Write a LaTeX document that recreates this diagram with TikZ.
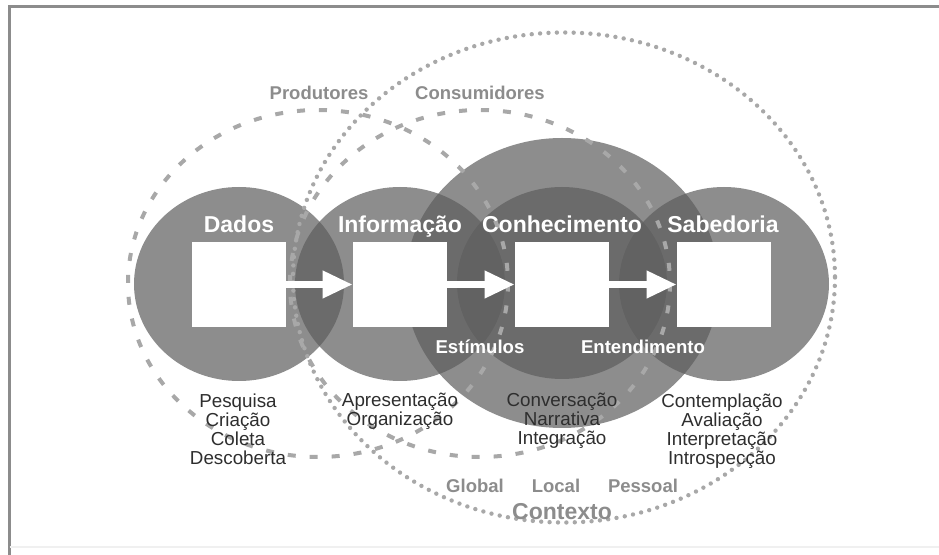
\documentclass[tikz,border=0pt]{standalone}
\usepackage{fontspec}
\setmainfont{Liberation Sans}
\usetikzlibrary{arrows.meta}
\definecolor{ringgray}{gray}{0.37}
\definecolor{linegray}{gray}{0.66}
\definecolor{labelgray}{gray}{0.55}
\definecolor{listgray}{gray}{0.18}
\definecolor{framegray}{gray}{0.55}
\begin{document}
\begin{tikzpicture}[x=0.5pt, y=-0.5pt,
    ring/.style={fill=ringgray, fill opacity=0.71},
    dashring/.style={draw=linegray, line width=2pt, dash pattern=on 4pt off 7pt},
    dotring/.style={draw=linegray, line width=2.2pt, dash pattern=on 0pt off 4.2pt, line cap=round},
    box/.style={fill=white, minimum width=47pt, minimum height=42.5pt, inner sep=0pt},
    flow/.style={draw=white, line width=3.5pt, -{Triangle[length=15pt, width=13pt]}},
    title/.style={text=white, font=\bfseries\fontsize{11.5}{13}\selectfont, anchor=base, inner sep=0pt},
    bridge/.style={text=white, font=\bfseries\fontsize{9.3}{11}\selectfont, anchor=base, inner sep=0pt},
    tag/.style={text=labelgray, font=\bfseries\fontsize{9.25}{11}\selectfont, anchor=base, inner sep=0pt},
    steps/.style={text=listgray, font=\fontsize{9.4}{9.5}\selectfont, align=center, anchor=north, inner sep=0pt}]
    \useasboundingbox (0,0) rectangle (939,555);

    % frame
    \draw[framegray, line width=1.5pt] (9.5,555) -- (9.5,6.5) -- (939,6.5);
    \draw[gray!12, line width=1pt] (9.5,547) -- (939,547);

    % circles
    \fill[ring] (239,284) ellipse [x radius=105, y radius=97];
    \fill[ring] (400,284) ellipse [x radius=105, y radius=97];
    \fill[ring] (562,283) ellipse [x radius=157, y radius=145];
    \fill[ring] (562,283) ellipse [x radius=105, y radius=96];
    \fill[ring] (724,284) ellipse [x radius=105, y radius=97];

    % producers, consumers, context
    \draw[dashring] (318,283.5) ellipse [x radius=190, y radius=173.5];
    \draw[dashring] (480,283.5) ellipse [x radius=190, y radius=173.5];
    \draw[dotring] (564,277.5) ellipse [x radius=271, y radius=245];

    \node[box] (dados) at (239,284.5) {};
    \node[box] (info)  at (400,284.5) {};
    \node[box] (conh)  at (562,284.5) {};
    \node[box] (sab)   at (724,284.5) {};

    \draw[flow] (dados) -- (info);
    \draw[flow] (info) -- (conh);
    \draw[flow] (conh) -- (sab);

    \node[title] (t1) at (239,233) {Dados};
    \node[title] (t2) at (400,233) {Informação};
    \node[title] (t3) at (562,233) {Conhecimento};
    \node[title] (t4) at (723,233) {Sabedoria};

    \node[bridge] (estimulos) at (480,354) {Estímulos};
    \node[bridge] (entend)    at (643,354) {Entendimento};

    \node[tag] (prod) at (319,99.5) {Produtores};
    \node[tag] (cons) at (480,99.5) {Consumidores};
    \node[tag] (glob) at (475,493) {Global};
    \node[tag] (loc)  at (556,493) {Local};
    \node[tag] (pess) at (643,493) {Pessoal};
    \node[tag, font=\bfseries\fontsize{11.5}{13}\selectfont] (ctx) at (562,520) {Contexto};

    \node[steps] (l1) at (238,393) {Pesquisa\\Criação\\Coleta\\Descoberta};
    \node[steps] (l2) at (400,393) {Apresentação\\Organização};
    \node[steps] (l3) at (562,393) {Conversação\\Narrativa\\Integração};
    \node[steps] (l4) at (722,393) {Contemplação\\Avaliação\\Interpretação\\Introspecção};
\end{tikzpicture}
\end{document}
